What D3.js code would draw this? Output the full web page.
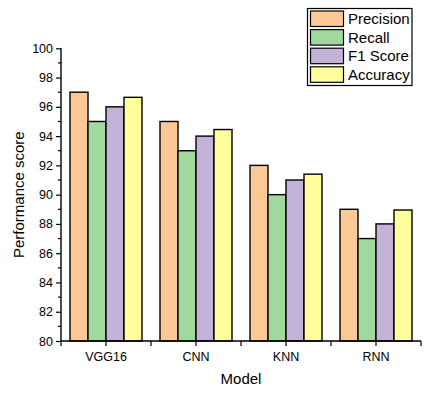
<!DOCTYPE html>
<html><head><meta charset="utf-8">
<script src="https://cdn.jsdelivr.net/npm/d3@7"></script>
<style>body{margin:0;background:#fff}svg{display:block}text{font-family:Arial,"Liberation Sans",sans-serif;fill:#000}</style>
</head><body><svg id="c" width="434" height="395"></svg>
<script>
const categories = ["VGG16","CNN","KNN","RNN"];
const seriesNames = ["Precision","Recall","F1 Score","Accuracy"];
const precision = [97, 95, 92, 89];
const recall = [95, 93, 90, 87];
const f1 = [96, 94, 91, 88];
const accuracy = [96.65, 94.45, 91.4, 88.95];
const yTicks = [80,82,84,86,88,90,92,94,96,98,100];
const colors = ["#FCC895","#A0D89D","#C3B3D8","#FFFD9C"];

const series = [precision, recall, f1, accuracy];
const svg = d3.select("#c");
const L = 61, R = 421, T = 48.3, B = 341;
const x = d3.scaleBand().domain(categories).range([L, R]).paddingInner(0.2).paddingOuter(0.1);
const x1 = d3.scaleBand().domain(seriesNames).range([0, x.bandwidth()]);
const y = d3.scaleLinear().domain([80, 100]).range([B, T]);

categories.forEach((c, i) => {
  series.forEach((s, j) => {
    svg.append("rect")
      .attr("x", x(c) + x1(seriesNames[j]))
      .attr("y", y(s[i]))
      .attr("width", x1.bandwidth())
      .attr("height", y(80) - y(s[i]))
      .attr("fill", colors[j]).attr("stroke", "#000").attr("stroke-width", 1.4);
  });
});

// Y axis
const yAxis = d3.axisLeft(y).tickValues(yTicks).tickSize(5).tickPadding(3).tickFormat(d3.format("d"));
const ya = svg.append("g").attr("transform", `translate(${L},0)`).call(yAxis);
ya.select(".domain").attr("stroke-width", 1.4).attr("d", `M0,${B}V${T}`);
ya.selectAll(".tick line").attr("stroke-width", 1.2);
ya.selectAll("text").style("font-size", "12.5px").attr("font-family", "Arial, Liberation Sans, sans-serif");
const minor = d3.range(81, 100, 2);
ya.selectAll(".mn").data(minor).enter().append("line")
  .attr("x1", -3).attr("x2", 0).attr("y1", d => y(d)).attr("y2", d => y(d))
  .attr("stroke", "#000").attr("stroke-width", 1.2);

// X axis
const xAxis = d3.axisBottom(x).tickSize(5).tickPadding(6);
const xa = svg.append("g").attr("transform", `translate(0,${B})`).call(xAxis);
xa.select(".domain").attr("stroke-width", 1.4).attr("d", `M${L},0H${R}`);
xa.selectAll(".tick line").attr("stroke-width", 1.2);
xa.selectAll("text").style("font-size", "12.5px").attr("font-family", "Arial, Liberation Sans, sans-serif");
const bounds = d3.range(0, categories.length + 1).map(i => L + i * (R - L) / categories.length);
xa.selectAll(".mb").data(bounds).enter().append("line")
  .attr("x1", d => d).attr("x2", d => d).attr("y1", 0).attr("y2", 5)
  .attr("stroke", "#000").attr("stroke-width", 1.2);

// Titles
svg.append("text").attr("x", (L + R) / 2).attr("y", 384).attr("text-anchor", "middle")
  .style("font-size", "15px").text("Model");
svg.append("text").attr("transform", `translate(24,${(T + B) / 2}) rotate(-90)`).attr("text-anchor", "middle")
  .style("font-size", "15px").text("Performance score");

// Legend
const lg = svg.append("g");
lg.append("rect").attr("x", 307.5).attr("y", 8.5).attr("width", 104.5).attr("height", 77)
  .attr("fill", "#fff").attr("stroke", "#000").attr("stroke-width", 1.2);
seriesNames.forEach((n, j) => {
  const yy = 11 + j * 18.6;
  lg.append("rect").attr("x", 310.5).attr("y", yy).attr("width", 33).attr("height", 15.5)
    .attr("fill", colors[j]).attr("stroke", "#000").attr("stroke-width", 1.2);
  lg.append("text").attr("x", 348).attr("y", yy + 13).style("font-size", "15px").text(n);
});
</script></body></html>
